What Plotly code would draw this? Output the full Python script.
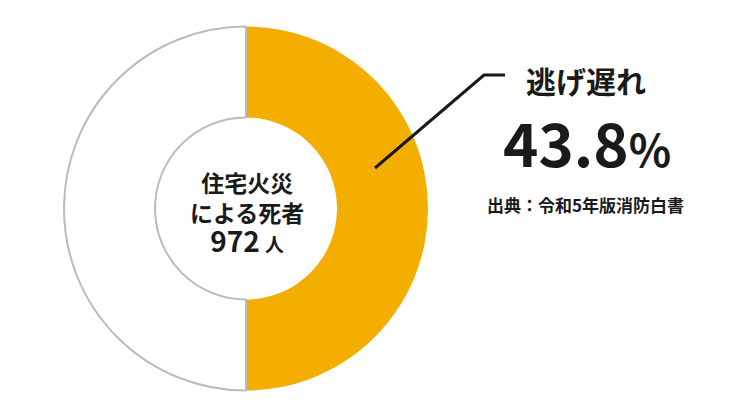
import plotly.graph_objects as go

# data
slice_labels = ["逃げ遅れ", "その他"]
slice_values = [50, 50]          # drawn split as seen in the picture
slice_colors = ["#F4AE00", "#FFFFFF"]
line_colors = ["#F4AE00", "#BBBBBB"]
line_widths = [0, 2]

center_lines = ["住宅火災", "による死者"]
total_deaths = "972"
total_unit = "人"
label_title = "逃げ遅れ"
label_value = "43.8"
label_unit = "%"
source_text = "出典：令和5年版消防白書"

W, H = 740, 416
FONT = "Noto Sans CJK JP"
INK = "#1A1A1A"

def px(x):
    return x / W

def py(y):
    return 1 - y / H

cx, cy, r = 246, 208.5, 182

fig = go.Figure(go.Pie(
    labels=slice_labels,
    values=slice_values,
    hole=0.5,
    sort=False,
    direction="clockwise",
    rotation=0,
    marker=dict(colors=slice_colors,
                line=dict(color=line_colors, width=line_widths)),
    textinfo="none",
    hoverinfo="label+value",
    domain=dict(x=[px(cx - r), px(cx + r)], y=[py(cy + r), py(cy - r)]),
    showlegend=False,
))

center_text = (
    "<b>" + center_lines[0] + "<br>"
    + center_lines[1] + "<br>"
    + "<span style='font-size:28px'>" + total_deaths + "</span> "
    + "<span style='font-size:19px'>" + total_unit + "</span></b>"
)

annotations = [
    dict(x=px(247), y=py(213), text=center_text,
         font=dict(size=23, color=INK, family=FONT)),
    dict(x=px(586), y=py(80), text="<b>" + label_title + "</b>",
         font=dict(size=30, color=INK, family=FONT)),
    dict(x=px(587), y=py(140),
         text="<b><span style='font-size:60px'>" + label_value + "</span>"
              + "<span style='font-size:44px'>" + label_unit + "</span></b>",
         font=dict(size=59, color=INK, family=FONT)),
    dict(x=px(585), y=py(204), text="<b>" + source_text + "</b>",
         font=dict(size=17, color=INK, family=FONT)),
]
for a in annotations:
    a.update(xref="paper", yref="paper", showarrow=False,
             xanchor="center", yanchor="middle", align="center")

fig.update_layout(
    width=W, height=H,
    margin=dict(l=0, r=0, t=0, b=0),
    paper_bgcolor="white",
    plot_bgcolor="white",
    annotations=annotations,
    shapes=[dict(
        type="path", xref="paper", yref="paper",
        path=f"M {px(375)} {py(168)} L {px(484)} {py(75)} L {px(505)} {py(75)}",
        line=dict(color=INK, width=3),
    )],
)

fig.write_html(
    "out.html",
    config={"displayModeBar": False},
    post_script="document.body.style.margin='0';document.body.style.overflow='hidden';",
)
